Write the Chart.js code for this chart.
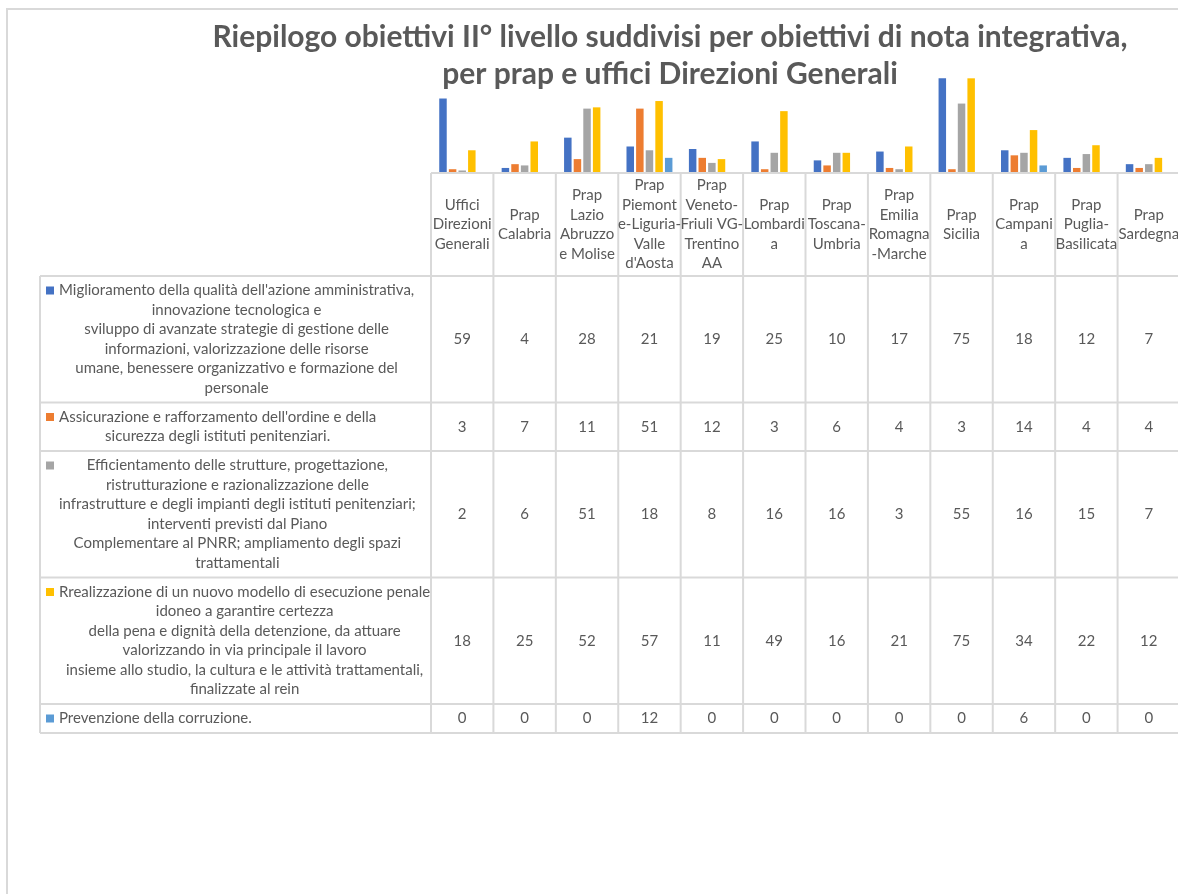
<!DOCTYPE html>
<html>
<head>
<meta charset="utf-8">
<title>Riepilogo obiettivi II° livello</title>
<script src="https://cdn.jsdelivr.net/npm/chart.js@4.4.0/dist/chart.umd.min.js"></script>
<style>
  html, body { margin: 0; padding: 0; background: #fff; overflow: hidden; }
  canvas { display: block; }
</style>
</head>
<body>
<canvas id="barChart" width="1200" height="894"></canvas>
<script>
// column headers (already split the way the table wraps them)
var categories = [
  ['Uffici', 'Direzioni', 'Generali'],
  ['Prap', 'Calabria'],
  ['Prap', 'Lazio', 'Abruzzo', 'e Molise'],
  ['Prap', 'Piemont', 'e-Liguria-', 'Valle', "d'Aosta"],
  ['Prap', 'Veneto-', 'Friuli VG-', 'Trentino', 'AA'],
  ['Prap', 'Lombardi', 'a'],
  ['Prap', 'Toscana-', 'Umbria'],
  ['Prap', 'Emilia', 'Romagna', '-Marche'],
  ['Prap', 'Sicilia'],
  ['Prap', 'Campani', 'a'],
  ['Prap', 'Puglia-', 'Basilicata'],
  ['Prap', 'Sardegna']
];

// one array per objective
var miglioramento = [59, 4, 28, 21, 19, 25, 10, 17, 75, 18, 12, 7];
var sicurezza     = [3, 7, 11, 51, 12, 3, 6, 4, 3, 14, 4, 4];
var strutture     = [2, 6, 51, 18, 8, 16, 16, 3, 55, 16, 15, 7];
var esecuzione    = [18, 25, 52, 57, 11, 49, 16, 21, 75, 34, 22, 12];
var corruzione    = [0, 0, 0, 12, 0, 0, 0, 0, 0, 6, 0, 0];

var objectives = [
  ["Miglioramento della qualità dell'azione amministrativa,",
   'innovazione tecnologica e',
   'sviluppo di avanzate strategie di gestione delle',
   'informazioni, valorizzazione delle risorse',
   'umane, benessere organizzativo e formazione del',
   'personale'],
  ["Assicurazione e rafforzamento dell'ordine e della",
   'sicurezza degli istituti penitenziari.'],
  ['Efficientamento delle strutture, progettazione,',
   'ristrutturazione e razionalizzazione delle',
   'infrastrutture e degli impianti degli istituti penitenziari;',
   'interventi previsti dal Piano',
   'Complementare al PNRR; ampliamento degli spazi',
   'trattamentali'],
  ['Rrealizzazione di un nuovo modello di esecuzione penale',
   'idoneo a garantire certezza',
   'della pena e dignità della detenzione, da attuare',
   'valorizzando in via principale il lavoro',
   'insieme allo studio, la cultura e le attività trattamentali,',
   'finalizzate al rein'],
  ['Prevenzione della corruzione.']
];

var titleLines = [
  'Riepilogo obiettivi II° livello suddivisi per obiettivi di nota integrativa,',
  'per prap e uffici Direzioni Generali'
];

var colors = ['#4472C4', '#ED7D31', '#A5A5A5', '#FFC000', '#5B9BD5'];
var seriesData = [miglioramento, sicurezza, strutture, esecuzione, corruzione];

var gridColor = '#D9D9D9';
var textColor = '#595959';

Chart.defaults.font.family = 'Lato';

// title, outer frame and the data table under the bars
var dataTable = {
  id: 'dataTable',
  afterDraw: function (chart) {
    var ctx = chart.ctx;
    var area = chart.chartArea;
    var x = chart.scales.x;
    var colW = x.getPixelForValue(1) - x.getPixelForValue(0);
    var lineH = 19.5;
    var labelLeft = 40;
    var headTop = area.bottom;
    var headBottom = headTop + 103;
    var right = x.getPixelForValue(categories.length - 1) + colW / 2;

    ctx.save();

    // frame
    ctx.strokeStyle = gridColor;
    ctx.lineWidth = 2;
    ctx.beginPath();
    ctx.moveTo(7, 894); ctx.lineTo(7, 9); ctx.lineTo(chart.width, 9);
    ctx.stroke();

    // title
    ctx.fillStyle = textColor;
    ctx.font = 'bold 30px Lato';
    ctx.textAlign = 'center';
    ctx.textBaseline = 'alphabetic';
    for (var t = 0; t < titleLines.length; t++) {
      ctx.fillText(titleLines[t], 670, 47 + t * 37);
    }

    // row extents
    var rows = [];
    var y = headBottom;
    for (var r = 0; r < objectives.length; r++) {
      var h = objectives[r].length * lineH + 9.5;
      rows.push({ top: y, bottom: y + h });
      y += h;
    }
    var tableBottom = y;

    // grid
    ctx.beginPath();
    ctx.moveTo(area.left, headTop); ctx.lineTo(chart.width, headTop);
    ctx.moveTo(labelLeft, headBottom); ctx.lineTo(right, headBottom);
    for (var r = 0; r < rows.length; r++) {
      ctx.moveTo(labelLeft, rows[r].bottom); ctx.lineTo(right, rows[r].bottom);
    }
    ctx.moveTo(labelLeft, headBottom); ctx.lineTo(labelLeft, tableBottom);
    for (var c = 0; c <= categories.length; c++) {
      var cx = area.left + c * colW;
      ctx.moveTo(cx, headTop); ctx.lineTo(cx, tableBottom);
    }
    ctx.stroke();

    // column headers
    ctx.font = '15px Lato';
    ctx.textBaseline = 'middle';
    var headMid = (headTop + headBottom) / 2;
    for (var c = 0; c < categories.length; c++) {
      var lines = categories[c];
      var px = x.getPixelForValue(c);
      for (var i = 0; i < lines.length; i++) {
        ctx.fillText(lines[i], px, headMid + (i - (lines.length - 1) / 2) * lineH);
      }
    }

    // row labels with legend keys
    for (var r = 0; r < objectives.length; r++) {
      var lines = objectives[r];
      var mid = (rows[r].top + rows[r].bottom) / 2;
      var maxW = 0;
      for (var i = 0; i < lines.length; i++) {
        maxW = Math.max(maxW, ctx.measureText(lines[i]).width);
      }
      var blockMid = 59 + maxW / 2;
      var firstY = mid - (lines.length - 1) / 2 * lineH;
      ctx.fillStyle = colors[r];
      ctx.fillRect(46, firstY - 4, 8, 8);
      ctx.fillStyle = textColor;
      for (var i = 0; i < lines.length; i++) {
        ctx.fillText(lines[i], blockMid, firstY + i * lineH);
      }
    }

    // values
    chart.data.datasets.forEach(function (ds, r) {
      var mid = (rows[r].top + rows[r].bottom) / 2;
      ds.data.forEach(function (v, c) {
        ctx.fillText(String(v), x.getPixelForValue(c), mid);
      });
    });

    ctx.restore();
  }
};

var datasets = [];
for (var s = 0; s < seriesData.length; s++) {
  datasets.push({
    label: objectives[s].join(' '),
    data: seriesData[s],
    backgroundColor: colors[s],
    categoryPercentage: 0.77,
    barPercentage: 0.78
  });
}

var chartDiv = document.getElementById('barChart');
var myChart = new Chart(chartDiv, {
  type: 'bar',
  data: {
    labels: categories,
    datasets: datasets
  },
  options: {
    responsive: false,
    animation: false,
    layout: {
      padding: { left: 431, right: 20, top: 72, bottom: 721 }
    },
    scales: {
      x: { display: false },
      y: { display: false, min: 0, max: 80 }
    },
    plugins: {
      legend: { display: false },
      tooltip: { enabled: false }
    }
  },
  plugins: [dataTable]
});
</script>
</body>
</html>
